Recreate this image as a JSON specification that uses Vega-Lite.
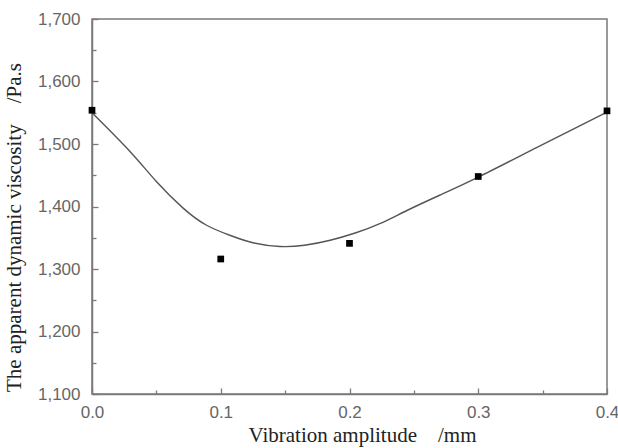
{
  "$schema": "https://vega.github.io/schema/vega-lite/v6.json",
  "width": 515,
  "height": 375,
  "autosize": {"type": "none"},
  "padding": {"left": 92, "top": 19, "right": 11, "bottom": 54},
  "background": "white",
  "config": {
    "view": {"stroke": "#7a7a7a", "strokeWidth": 1.5},
    "axis": {
      "grid": false,
      "domainColor": "#7a7a7a",
      "domainWidth": 1.5,
      "tickColor": "#7a7a7a",
      "tickWidth": 1.3,
      "labelFont": "Liberation Sans",
      "labelFontSize": 17,
      "labelColor": "#666666",
      "titleFont": "Liberation Serif",
      "titleFontSize": 21,
      "titleFontWeight": "normal",
      "titleColor": "#222222"
    }
  },
  "datasets": {
    "points": [
      {"amp": 0.0, "visc": 1554},
      {"amp": 0.1, "visc": 1316},
      {"amp": 0.2, "visc": 1341},
      {"amp": 0.3, "visc": 1448},
      {"amp": 0.4, "visc": 1553}
    ],
    "curve": [
      {"amp": 0.0, "visc": 1550},
      {"amp": 0.0295, "visc": 1488},
      {"amp": 0.05, "visc": 1440},
      {"amp": 0.071, "visc": 1397},
      {"amp": 0.089, "visc": 1370},
      {"amp": 0.107, "visc": 1354},
      {"amp": 0.125, "visc": 1342},
      {"amp": 0.146, "visc": 1336},
      {"amp": 0.165, "visc": 1338},
      {"amp": 0.185, "visc": 1346},
      {"amp": 0.205, "visc": 1358},
      {"amp": 0.224, "visc": 1373},
      {"amp": 0.245, "visc": 1394},
      {"amp": 0.27, "visc": 1418},
      {"amp": 0.3, "visc": 1447},
      {"amp": 0.346, "visc": 1495},
      {"amp": 0.4, "visc": 1551}
    ]
  },
  "encoding": {
    "x": {
      "field": "amp",
      "type": "quantitative",
      "scale": {"domain": [0, 0.4], "nice": false, "zero": false},
      "axis": {
        "title": "Vibration amplitude\u00a0\u00a0\u00a0\u00a0/mm",
        "values": [0, 0.05, 0.1, 0.15, 0.2, 0.25, 0.3, 0.35, 0.4],
        "labelExpr": "abs(datum.value*10 - round(datum.value*10)) < 0.001 ? format(datum.value, '.1f') : ''",
        "tickSize": {"condition": {"test": "abs(datum.value*10 - round(datum.value*10)) < 0.001", "value": -6}, "value": -4},
        "labelPadding": 16,
        "titlePadding": 4,
        "titleX": 270,
        "labelFlush": false
      }
    },
    "y": {
      "field": "visc",
      "type": "quantitative",
      "scale": {"domain": [1100, 1700], "nice": false, "zero": false},
      "axis": {
        "title": "The apparent dynamic viscosity\u00a0\u00a0\u00a0\u00a0/Pa.s",
        "values": [1100, 1150, 1200, 1250, 1300, 1350, 1400, 1450, 1500, 1550, 1600, 1650, 1700],
        "labelExpr": "datum.value % 100 == 0 ? format(datum.value, ',') : ''",
        "tickSize": {"condition": {"test": "datum.value % 100 == 0", "value": -6}, "value": -4},
        "labelPadding": 18,
        "titlePadding": 13,
        "titleY": 208,
        "labelFlush": false
      }
    }
  },
  "layer": [
    {
      "data": {"name": "curve"},
      "mark": {"type": "line", "interpolate": "natural", "color": "#555555", "strokeWidth": 1.4}
    },
    {
      "data": {"name": "points"},
      "mark": {"type": "point", "shape": "square", "filled": true, "color": "#000000", "size": 45, "opacity": 1}
    }
  ]
}
